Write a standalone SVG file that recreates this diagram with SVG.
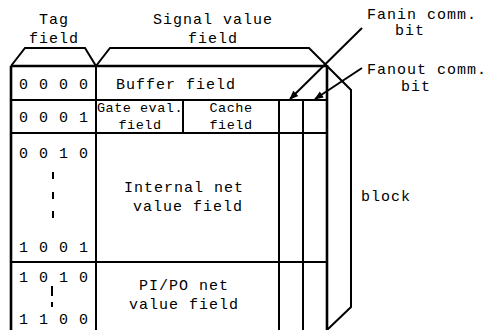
<svg xmlns="http://www.w3.org/2000/svg" width="486" height="330" viewBox="0 0 486 330">
<defs>
<style>
.t{font-family:"Liberation Mono","DejaVu Sans Mono",monospace;font-size:15px;letter-spacing:1px;fill:#000;text-anchor:middle}
.s{font-family:"Liberation Mono","DejaVu Sans Mono",monospace;font-size:13.5px;letter-spacing:0.5px;fill:#000;text-anchor:middle}
.ln{stroke:#000;stroke-width:2;fill:none}
.th{stroke:#000;stroke-width:2.6;fill:none}
.ds{stroke:#000;stroke-width:2;fill:none}
</style>
<marker id="ah" viewBox="0 0 10 10" refX="9" refY="5" markerWidth="10" markerHeight="9" orient="auto" markerUnits="userSpaceOnUse">
<path d="M0,1 L10,5 L0,9 z" fill="#000"/>
</marker>
</defs>
<rect width="486" height="330" fill="#fff"/>

<g id="brackets">
<polyline class="ln" points="11,66 25,48 85,48 96,66"/>
<polyline class="ln" points="96,66 110,48 309,48 351,90 351,307 327,330"/>
</g>

<g id="tag-label">
<text class="t" x="54" y="24">Tag</text>
<text class="t" x="54" y="43">field</text>
</g>
<g id="signal-label">
<text class="t" x="213" y="24">Signal value</text>
<text class="t" x="213" y="43">field</text>
</g>

<g id="table">
<line class="th" x1="11" y1="66" x2="327" y2="66"/>
<line class="th" x1="11" y1="66" x2="11" y2="330"/>
<line class="th" x1="327" y1="65" x2="327" y2="330"/>
<line class="ln" x1="96" y1="66" x2="96" y2="330"/>
<line class="ln" x1="11" y1="100" x2="327" y2="100"/>
<line class="ln" x1="11" y1="133" x2="327" y2="133"/>
<line class="ln" x1="11" y1="262" x2="327" y2="262"/>
<line class="ln" x1="183" y1="100" x2="183" y2="133"/>
<line class="ln" x1="279" y1="100" x2="279" y2="330"/>
<line class="ln" x1="303" y1="100" x2="303" y2="330"/>
</g>

<g id="row-buffer">
<text class="t" x="54" y="89">0 0 0 0</text>
<text class="t" x="176" y="89">Buffer field</text>
</g>
<g id="row-gate">
<text class="t" x="54" y="122">0 0 0 1</text>
<text class="s" x="140" y="112">Gate eval.</text>
<text class="s" x="140" y="129">field</text>
<text class="s" x="231" y="112">Cache</text>
<text class="s" x="231" y="129">field</text>
</g>
<g id="row-internal">
<text class="t" x="54" y="158">0 0 1 0</text>
<line class="ds" x1="53" y1="172" x2="53" y2="179"/>
<line class="ds" x1="53" y1="192" x2="53" y2="199"/>
<line class="ds" x1="53" y1="211" x2="53" y2="218"/>
<text class="t" x="54" y="252">1 0 0 1</text>
<text class="t" x="184" y="192">Internal net</text>
<text class="t" x="188" y="211">value field</text>
</g>
<g id="row-pipo">
<text class="t" x="54" y="282">1 0 1 0</text>
<line class="ds" x1="52" y1="286" x2="52" y2="296"/>
<line class="ds" x1="52" y1="302" x2="52" y2="307"/>
<text class="t" x="54" y="324">1 1 0 0</text>
<text class="t" x="184" y="290">PI/PO net</text>
<text class="t" x="184" y="309">value field</text>
</g>

<g id="block-label">
<text class="t" x="386" y="201">block</text>
</g>
<g id="fanin-label">
<text class="t" x="422" y="19">Fanin comm.</text>
<text class="t" x="410" y="35">bit</text>
</g>
<g id="fanout-label">
<text class="t" x="427" y="74">Fanout comm.</text>
<text class="t" x="416" y="91">bit</text>
</g>

<g id="connectors">
<line class="ln" x1="362" y1="28" x2="290" y2="99" marker-end="url(#ah)"/>
<line class="ln" x1="362" y1="68" x2="315" y2="99" marker-end="url(#ah)"/>
</g>
</svg>
